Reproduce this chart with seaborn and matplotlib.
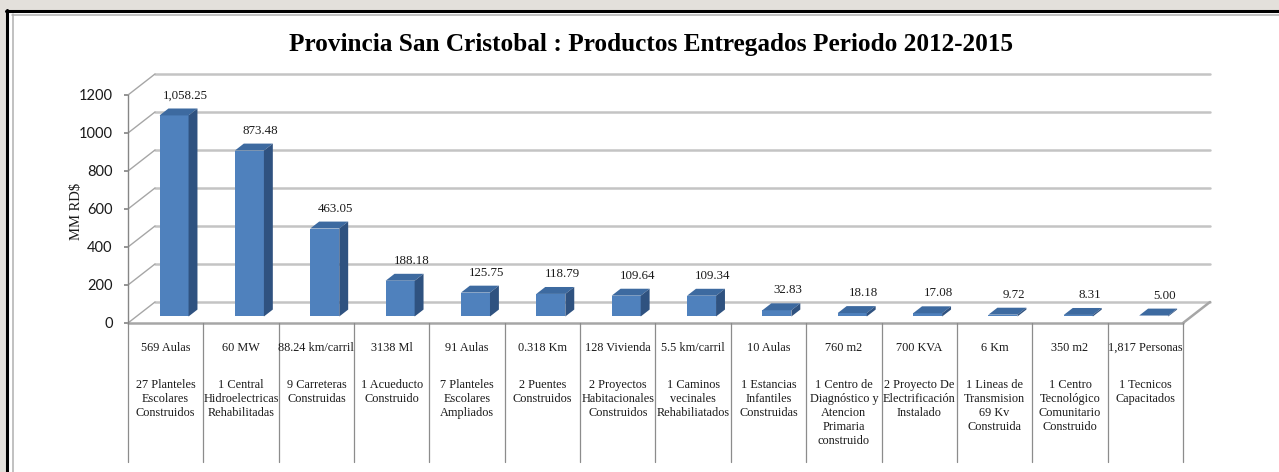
import matplotlib
matplotlib.use("Agg")
import pandas as pd
import matplotlib.pyplot as plt
import seaborn as sns
from matplotlib.patches import Polygon, Rectangle
from matplotlib.lines import Line2D

# ======================
# DATOS
# ======================
productos = [
    "27 Planteles\nEscolares\nConstruidos",
    "1 Central\nHidroelectricas\nRehabilitadas",
    "9 Carreteras\nConstruidas",
    "1 Acueducto\nConstruido",
    "7 Planteles\nEscolares\nAmpliados",
    "2 Puentes\nConstruidos",
    "2 Proyectos\nHabitacionales\nConstruidos",
    "1 Caminos\nvecinales\nRehabiliatados",
    "1 Estancias\nInfantiles\nConstruidas",
    "1 Centro de\nDiagnóstico y\nAtencion\nPrimaria\nconstruido",
    "2 Proyecto De\nElectrificación\nInstalado",
    "1 Lineas de\nTransmision\n69 Kv\nConstruida",
    "1 Centro\nTecnológico\nComunitario\nConstruido",
    "1 Tecnicos\nCapacitados",
]
unidades = [
    "569 Aulas", "60 MW", "88.24 km/carril", "3138 Ml", "91 Aulas",
    "0.318 Km", "128 Vivienda", "5.5 km/carril", "10 Aulas", "760 m2",
    "700 KVA", "6 Km", "350 m2", "1,817 Personas",
]
montos = [1058.25, 873.48, 463.05, 188.18, 125.75, 118.79, 109.64,
          109.34, 32.83, 18.18, 17.08, 9.72, 8.31, 5.00]
ticks_y = [0, 200, 400, 600, 800, 1000, 1200]

df = pd.DataFrame({"producto": productos, "unidad": unidades, "monto": montos})

# ======================
# CONFIGURACIÓN
# ======================
sns.set_theme(style="white")
plt.rcParams["font.family"] = ["Liberation Serif", "DejaVu Serif"]

W, H = 1279, 472
fig = plt.figure(figsize=(W / 100, H / 100), dpi=100)
fig.patch.set_facecolor("#e3e0db")

# panel blanco con borde
fig.add_artist(Rectangle((6 / W, 0), 1, 1 - 10 / H, transform=fig.transFigure,
                         facecolor="white", edgecolor="none", zorder=0))
fig.add_artist(Line2D([7 / W, 7 / W], [0, 1 - 10 / H], transform=fig.transFigure,
                      color="black", lw=2.2))
fig.add_artist(Line2D([6 / W, 1], [1 - 11 / H, 1 - 11 / H], transform=fig.transFigure,
                      color="black", lw=2.2))
fig.add_artist(Line2D([12.5 / W, 12.5 / W], [0, 1 - 14 / H], transform=fig.transFigure,
                      color="#b0b0b0", lw=1.1))
fig.add_artist(Line2D([12 / W, 1], [1 - 14.5 / H, 1 - 14.5 / H], transform=fig.transFigure,
                      color="#b0b0b0", lw=1.1))

# ejes: x de -0.5 a 13.5 -> px 128..1183 ; y de 0 a 1200 -> px 323..95
ax = fig.add_axes([128 / W, (H - 323) / H, 1055 / W, 228 / H])
ax.set_facecolor("none")
n = len(productos)
ax.set_xlim(-0.5, n - 0.5)
ax.set_ylim(0, 1200)

px_x = 1055 / n
px_y = 228 / 1200
DX = 27 / px_x   # profundidad en unidades de datos
DY = 21 / px_y

# pared del fondo y lineas laterales
for v in ticks_y:
    ax.plot([-0.5 + DX, n - 0.5 + DX], [v + DY, v + DY], color="#c4c4c4",
            lw=1.8, clip_on=False, zorder=1)
    ax.plot([-0.5, -0.5 + DX], [v, v + DY], color="#a6a6a6", lw=1.0,
            clip_on=False, zorder=1)

# piso
ax.plot([-0.5, n - 0.5], [0, 0], color="#a6a6a6", lw=1.8, clip_on=False, zorder=2)
ax.plot([n - 0.5, n - 0.5 + DX], [0, DY], color="#a6a6a6", lw=1.8, clip_on=False, zorder=2)

# barras
sns.barplot(data=df, x="producto", y="monto", color="#4f81bd", saturation=1,
            width=0.385, errorbar=None, linewidth=0, ax=ax, zorder=3)

d0, d1 = 0.31, 0.64
for p, val in zip(ax.patches, montos):
    x0, w, h = p.get_x(), p.get_width(), p.get_height()
    p.set_x(x0 + d0 * DX)
    p.set_y(d0 * DY)
    p.set_clip_on(False)
    a = x0 + d0 * DX
    b = x0 + w + d0 * DX
    top = [(a, h + d0 * DY), (b, h + d0 * DY),
           (b + (d1 - d0) * DX, h + d1 * DY), (a + (d1 - d0) * DX, h + d1 * DY)]
    side = [(b, d0 * DY), (b + (d1 - d0) * DX, d1 * DY),
            (b + (d1 - d0) * DX, h + d1 * DY), (b, h + d0 * DY)]
    ax.add_patch(Polygon(top, closed=True, facecolor="#3d6aa0", edgecolor="none",
                         clip_on=False, zorder=3))
    ax.add_patch(Polygon(side, closed=True, facecolor="#2f5280", edgecolor="none",
                         clip_on=False, zorder=3))
    ax.annotate(f"{val:,.2f}", (x0 + w / 2 + 0.5 * DX, h + d1 * DY),
                xytext=(6, 13), textcoords="offset pixels", ha="center",
                va="center", fontsize=9.3, color="#1a1a1a", zorder=5,
                annotation_clip=False)

# tabla de datos
ybot = -(462 - 323) / px_y
for k in range(n + 1):
    ax.plot([k - 0.5, k - 0.5], [0, ybot], color="#8c8c8c", lw=0.9,
            clip_on=False, zorder=2)
for i, (u, prod) in enumerate(zip(unidades, productos)):
    ax.text(i, -(348 - 323) / px_y, u, ha="center", va="center",
            fontsize=8.8, color="#1a1a1a", clip_on=False)
    ax.text(i, -(379 - 323) / px_y, prod, ha="center", va="top",
            fontsize=8.8, color="#1a1a1a", linespacing=1.22, clip_on=False)

# ejes y ticks
for s in ["top", "right", "bottom"]:
    ax.spines[s].set_visible(False)
ax.spines["left"].set_color("#868686")
ax.spines["left"].set_linewidth(1.0)
ax.set_xticks([])
ax.set_xlabel("")
ax.set_yticks(ticks_y)
ax.set_yticklabels([str(t) for t in ticks_y], fontfamily="Lato", fontsize=10.5,
                   color="#1a1a1a")
ax.tick_params(axis="y", length=3, color="#868686", direction="out", pad=8, left=True)
ax.set_ylabel("MM RD$", fontsize=10.5, color="#1a1a1a")
ax.yaxis.set_label_coords(-0.043, 0.49)

fig.text(651 / W, 1 - 45 / H,
         "Provincia San Cristobal : Productos Entregados Periodo 2012-2015",
         ha="center", va="center", fontsize=18.2, fontweight="bold", color="black")

fig.savefig("out.png", dpi=100, facecolor=fig.get_facecolor())
